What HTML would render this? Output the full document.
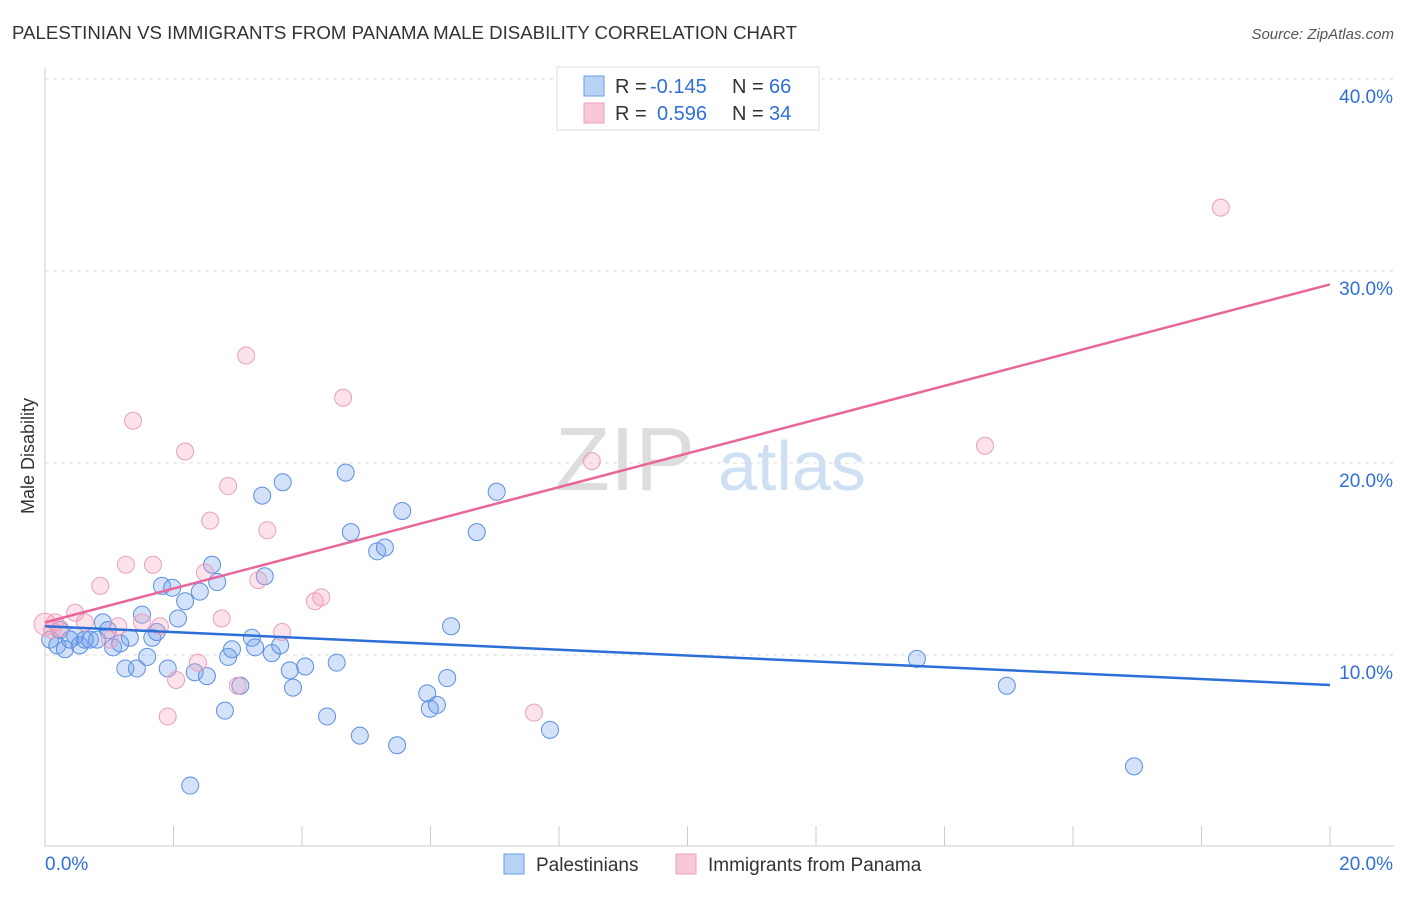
<!DOCTYPE html>
<html><head><meta charset="utf-8"><style>
body{margin:0;background:#fff;font-family:"Liberation Sans",sans-serif}
svg text{font-family:"Liberation Sans",sans-serif}
</style></head><body>
<svg id="chart" width="1406" height="892">
<text x="12" y="39" font-size="18" fill="#333" textLength="785" lengthAdjust="spacingAndGlyphs">PALESTINIAN VS IMMIGRANTS FROM PANAMA MALE DISABILITY CORRELATION CHART</text>
<text x="1394" y="39" font-size="15" fill="#555" font-style="italic" text-anchor="end">Source: ZipAtlas.com</text>
<text x="34" y="456" font-size="18" fill="#333" transform="rotate(-90 34 456)" text-anchor="middle">Male Disability</text>
<g><text x="555" y="490" font-size="90" fill="#ddd" font-family="Liberation Serif,serif">ZIP</text><text x="718" y="490" font-size="70" fill="#cfe0f5">atlas</text></g>
<g id="grid"></g><g id="axes"></g><g id="pts"></g><g id="lines"></g>
<g>
<rect x="557" y="67" width="262" height="63" fill="#fff" stroke="#ddd"/>
<rect x="584" y="76" width="20" height="20" fill="#b8d3f5" stroke="#6a9ee0"/>
<rect x="584" y="103" width="20" height="20" fill="#f9c8d8" stroke="#eaa0bb"/>
<text x="615" y="93" font-size="20" fill="#333">R =</text>
<text x="650" y="93" font-size="20" fill="#2f6fd6">-0.145</text>
<text x="732" y="93" font-size="20" fill="#333">N =</text>
<text x="769" y="93" font-size="20" fill="#2f6fd6">66</text>
<text x="615" y="120" font-size="20" fill="#333">R =</text>
<text x="657" y="120" font-size="20" fill="#2f6fd6">0.596</text>
<text x="732" y="120" font-size="20" fill="#333">N =</text>
<text x="769" y="120" font-size="20" fill="#2f6fd6">34</text>
</g>
<g>
<rect x="504" y="854" width="20" height="20" fill="#b8d3f5" stroke="#6a9ee0"/>
<text x="536" y="871" font-size="19" fill="#333">Palestinians</text>
<rect x="676" y="854" width="20" height="20" fill="#f9c8d8" stroke="#eaa0bb"/>
<text x="708" y="871" font-size="19" fill="#333">Immigrants from Panama</text>
</g>
</svg>
<script>
const yTicks=[10,20,30,40];
const xTickLabels=["0.0%","20.0%"];
const blueX=[0.08,0.19,0.31,0.47,0.54,0.70,0.81,0.90,0.98,1.06,1.17,1.25,1.32,1.43,1.51,1.59,1.67,1.74,1.82,1.91,1.98,2.07,2.18,2.26,2.33,2.41,2.52,2.60,2.68,2.80,2.85,2.91,3.04,3.22,3.27,3.38,3.42,3.53,3.66,3.70,3.81,3.86,4.05,4.39,4.54,4.68,4.76,4.90,5.17,5.29,5.48,5.56,5.95,5.99,6.10,6.26,6.32,6.72,7.03,7.86,13.57,14.97,16.95,0.23,0.39,0.62];
const blueY=[10.8,10.5,10.3,11.0,10.5,10.8,10.8,11.7,11.3,10.4,10.6,9.3,10.9,9.3,12.1,9.9,10.9,11.2,13.6,9.3,13.5,11.9,12.8,3.2,9.1,13.3,8.9,14.7,13.8,7.1,9.9,10.3,8.4,10.9,10.4,18.3,14.1,10.1,10.5,19.0,9.2,8.3,9.4,6.8,9.6,19.5,16.4,5.8,15.4,15.6,5.3,17.5,8.0,7.2,7.4,8.8,11.5,16.4,18.5,6.1,9.8,8.4,4.2,11.3,10.8,10.8];
const pinkX=[0.0,0.11,0.23,0.47,0.62,0.86,1.01,1.14,1.26,1.37,1.51,1.68,1.79,1.91,2.04,2.18,2.38,2.49,2.57,2.75,2.85,3.00,3.13,3.32,3.46,3.69,4.20,4.30,4.64,7.61,8.51,14.63,18.30,0.16];
const pinkY=[11.6,11.3,11.4,12.2,11.7,13.6,10.8,11.5,14.7,22.2,11.7,14.7,11.5,6.8,8.7,20.6,9.6,14.3,17.0,11.9,18.8,8.4,25.6,13.9,16.5,11.2,12.8,13.0,23.4,7.0,20.1,20.9,33.3,11.7];
const blueTrend=[11.5,8.44];
const pinkTrend=[11.7,29.3];
const NS="http://www.w3.org/2000/svg";
const sx=v=>45+v/20*1285, sy=v=>847-v*19.2;
function mk(tag,attrs,parent){const e=document.createElementNS(NS,tag);for(const k in attrs)e.setAttribute(k,attrs[k]);document.getElementById(parent).appendChild(e);return e;}
yTicks.forEach(t=>{
 const l=mk('line',{x1:45,x2:1394,y1:sy(t),y2:sy(t),stroke:'#ddd','stroke-dasharray':'4,4'},'grid');
 
 
 const tx=mk('text',{x:1393,y:sy(t)+24,'font-size':19,fill:'#2f6fd6','text-anchor':'end'},'grid');tx.textContent=t.toFixed(1)+'%';
 
 
});
mk('line',{x1:45,x2:45,y1:68,y2:847,stroke:'#ccc'},'axes');
mk('line',{x1:45,x2:1394,y1:846,y2:846,stroke:'#ccc'},'axes');
for(let i=0;i<=10;i++){mk('line',{x1:sx(i*2),x2:sx(i*2),y1:826,y2:846,stroke:'#ccc'},'axes');}
xTickLabels.forEach((s,i)=>{const t=mk('text',{x:i?1393:45,y:870,'font-size':19,fill:'#2f6fd6','text-anchor':i?'end':'start'},'axes');t.textContent=s;
 
 });
blueX.forEach((x,i)=>{const c=mk('circle',{cx:sx(x),cy:sy(blueY[i]),r:8.5,fill:'rgba(110,160,235,0.3)',stroke:'#5b8fe0','stroke-width':1},'pts');
 
 });
pinkX.forEach((x,i)=>{const c=mk('circle',{cx:sx(x),cy:sy(pinkY[i]),r:i===0?11:8.5,fill:'rgba(245,160,190,0.3)',stroke:'#eaa0bb','stroke-width':1},'pts');
 
 });
const bl=mk('line',{x1:sx(0),x2:sx(20),y1:sy(blueTrend[0]),y2:sy(blueTrend[1]),stroke:'#2c6fd6','stroke-width':2.5},'lines');


const pl=mk('line',{x1:sx(0),x2:sx(20),y1:sy(pinkTrend[0]),y2:sy(pinkTrend[1]),stroke:'#e8679a','stroke-width':2.5},'lines');


</script>
</body></html>
